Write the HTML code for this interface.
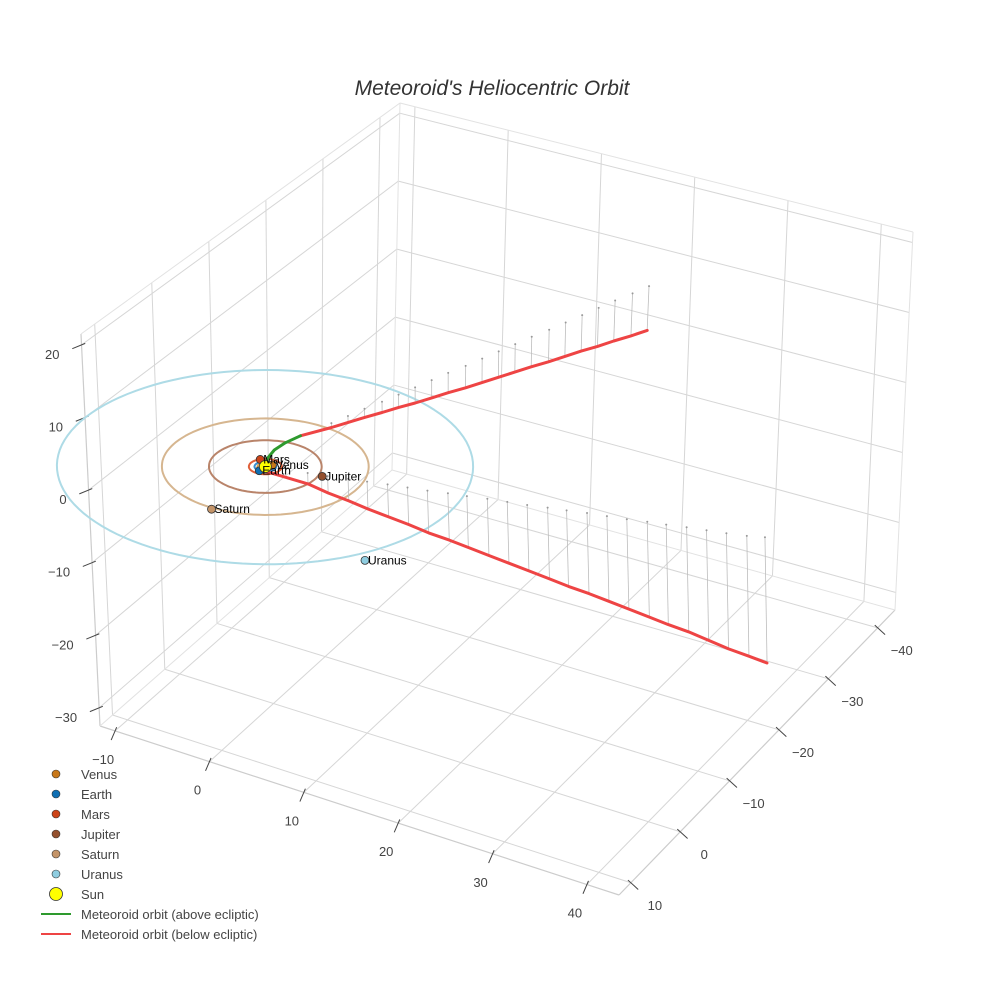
<!DOCTYPE html>
<html><head><meta charset="utf-8"><title>Meteoroid's Heliocentric Orbit</title>
<style>
html,body{margin:0;padding:0;background:#fff;}
svg{display:block;font-family:"Liberation Sans",Arial,sans-serif;}
</style></head>
<body>
<svg id="chart" width="984" height="984" viewBox="0 0 984 984">
<text x="492" y="95" text-anchor="middle" font-size="21" font-style="italic" style="fill:#333">Meteoroid's Heliocentric Orbit</text>
<g id="grid"></g>
<g id="ticks"></g>
<g id="orbits"></g>
<g id="drops"></g>
<g id="traj"></g>
<g id="planets"></g>
<g id="legend"></g>
</svg>
<script>
// ---- data ----
const xTicks = [-10, 0, 10, 20, 30, 40];
const yTicks = [-40, -30, -20, -10, 0, 10];
const zTicks = [-30, -20, -10, 0, 10, 20];
const xRange = [-11.6, 43.4];
const yRange = [-43.5, 12.4];
const zRange = [-32.5, 21.5];

const planetNames = ["Venus", "Earth", "Mars", "Jupiter", "Saturn", "Uranus"];
const planetColors = ["#c8781a", "#0f6fb3", "#cc4418", "#94502e", "#c49468", "#8fcde0"];
const orbitColors = ["#d8a050", "#3b8fd0", "#e0603a", "#b9846a", "#d6b690", "#aedbe6"];
const orbitRadii = [0.72, 1.0, 1.52, 5.2, 9.54, 19.2];
const planetX = [0.4, -0.06, -1.12, 5.5, 0.0, 17.2];
const planetY = [-0.6, 1.0, -0.97, -1.0, 9.8, 11.2];
const planetZ = [0, 0, 0, 0, 0, 0];

// meteoroid: above-ecliptic arc (green)
const greenX = [-0.3, -0.5, -0.5, -0.3, 0.1, 0.4];
const greenY = [-6.9, -4.5, -2.5, -1.0, 0.2, 0.8];
const greenZ = [0.0, 0.4, 0.6, 0.5, 0.3, 0.0];
// incoming branch below ecliptic (red)
const inX = [0.9, 1.5, 2.1, 2.8, 3.4, 4.0, 4.6, 5.2, 5.9, 6.5, 7.1, 7.7, 8.3, 9.0, 9.6, 10.2, 10.8, 11.4, 12.1, 12.7];
const inY = [-10.5, -12.5, -14.5, -16.5, -18.5, -20.5, -22.5, -24.5, -26.5, -28.5, -30.5, -32.5, -34.5, -36.5, -38.5, -40.5, -42.5, -44.5, -46.5, -48.5];
const inZ = [-0.6, -0.9, -1.2, -1.5, -1.8, -2.2, -2.5, -2.8, -3.1, -3.4, -3.7, -4.0, -4.3, -4.6, -4.9, -5.2, -5.6, -5.9, -6.2, -6.5];
// outgoing branch below ecliptic (red)
const outX = [4.0, 5.9, 7.8, 9.6, 11.5, 13.4, 15.3, 17.2, 19.0, 20.9, 22.8, 24.7, 26.6, 28.4, 30.3, 32.2, 34.1, 36.0, 37.8, 39.7, 41.6, 43.5, 45.4, 47.0];
const outY = [-0.9, -1.3, -1.8, -2.2, -2.7, -3.1, -3.5, -4.0, -4.4, -4.9, -5.3, -5.7, -6.2, -6.6, -7.1, -7.5, -7.9, -8.4, -8.8, -9.3, -9.7, -10.1, -10.6, -11.2];
const outZ = [-1.5, -2.3, -3.0, -3.7, -4.4, -5.0, -5.7, -6.3, -6.9, -7.6, -8.2, -8.8, -9.5, -10.1, -10.7, -11.3, -11.9, -12.6, -13.2, -13.8, -14.5, -15.2, -15.8, -16.5];

const legendLabels = ["Venus", "Earth", "Mars", "Jupiter", "Saturn", "Uranus", "Sun", "Meteoroid orbit (above ecliptic)", "Meteoroid orbit (below ecliptic)"];

// ---- projection (scene box corners on screen) ----
const NS = "http://www.w3.org/2000/svg";
const K = {
  "000": [392, 470], "100": [895, 610], "010": [100, 726], "110": [619, 895],
  "001": [400, 103], "101": [913, 232], "011": [81, 334], "111": [594, 462]
};
function proj(x, y, z) {
  const u = (x - xRange[0]) / (xRange[1] - xRange[0]);
  const v = (y - yRange[0]) / (yRange[1] - yRange[0]);
  const w = (z - zRange[0]) / (zRange[1] - zRange[0]);
  let px = 0, py = 0;
  for (const a of [0, 1]) for (const b of [0, 1]) for (const c of [0, 1]) {
    const f = (a ? u : 1 - u) * (b ? v : 1 - v) * (c ? w : 1 - w);
    const p = K["" + a + b + c];
    px += f * p[0]; py += f * p[1];
  }
  return [px, py];
}
function mk(tag, attrs, parent) {
  const e = document.createElementNS(NS, tag);
  for (const k in attrs) e.setAttribute(k, attrs[k]);
  parent.appendChild(e);
  return e;
}
function line3(p, q, stroke, sw, parent, name) {
  const a = proj(p[0], p[1], p[2]), b = proj(q[0], q[1], q[2]);
  const e = mk("line", { x1: a[0], y1: a[1], x2: b[0], y2: b[1], stroke: stroke, "stroke-width": sw }, parent);
  
  
  return e;
}
function path3(xs, ys, zs, stroke, sw, parent, name) {
  let d = "";
  for (let i = 0; i < xs.length; i++) {
    const p = proj(xs[i], ys[i], zs[i]);
    d += (i ? "L" : "M") + p[0].toFixed(1) + "," + p[1].toFixed(1);
  }
  const e = mk("path", { d: d, fill: "none", stroke: stroke, "stroke-width": sw, "stroke-linejoin": "round", "stroke-linecap": "round" }, parent);
  
  
  return e;
}

const [x0, x1] = xRange, [y0, y1] = yRange, [z0, z1] = zRange;
const grid = document.getElementById("grid");
const G = "#d6d6d6";
for (const x of xTicks) line3([x, y0, z0], [x, y1, z0], G, 1, grid, "floor-gridline-x");
for (const y of yTicks) line3([x0, y, z0], [x1, y, z0], G, 1, grid, "floor-gridline-y");
for (const y of yTicks) line3([x0, y, z0], [x0, y, z1], G, 1, grid, "left-wall-gridline-y");
for (const z of zTicks) line3([x0, y0, z], [x0, y1, z], G, 1, grid, "left-wall-gridline-z");
for (const x of xTicks) line3([x, y0, z0], [x, y0, z1], G, 1, grid, "back-wall-gridline-x");
for (const z of zTicks) line3([x0, y0, z], [x1, y0, z], G, 1, grid, "back-wall-gridline-z");
const E = "#e2e2e2";
line3([x0, y1, z0], [x1, y1, z0], "#ccc", 1.2, grid, "x-axis-line");
line3([x1, y1, z0], [x1, y0, z0], "#ccc", 1.2, grid, "y-axis-line");
line3([x0, y1, z0], [x0, y1, z1], "#ccc", 1.2, grid, "z-axis-line");
line3([x0, y0, z0], [x0, y0, z1], E, 1, grid, "box-edge");
line3([x1, y0, z0], [x1, y0, z1], E, 1, grid, "box-edge");
line3([x0, y1, z1], [x0, y0, z1], E, 1, grid, "box-edge");
line3([x0, y0, z1], [x1, y0, z1], E, 1, grid, "box-edge");
line3([x0, y0, z0], [x0, y1, z0], E, 1, grid, "box-edge");
line3([x0, y0, z0], [x1, y0, z0], E, 1, grid, "box-edge");

const ticks = document.getElementById("ticks");
function tick(pt, off, label, anchor, name) {
  const p = proj(pt[0], pt[1], pt[2]);
  const len = Math.hypot(off[0], off[1]);
  const ux = off[0] / len, uy = off[1] / len;
  const t = mk("line", { x1: p[0] - ux * 4, y1: p[1] - uy * 4, x2: p[0] + ux * 10, y2: p[1] + uy * 10, stroke: "#444", "stroke-width": 1 }, ticks);
  
  
  const tx = mk("text", { x: p[0] + off[0], y: p[1] + off[1] + 5, "font-size": 13, fill: "#444", "text-anchor": anchor }, ticks);
  tx.textContent = String(label).replace("-", "\u2212");
  
  
}
for (const x of xTicks) tick([x, y1, z0], [-12, 28], x, "middle", "x-tick");
for (const y of yTicks) tick([x1, y, z0], [24, 22], y, "middle", "y-tick");
for (const z of zTicks) tick([x0, y1, z], [-22, 9], z, "end", "z-tick");

const orbits = document.getElementById("orbits");
for (let i = 0; i < orbitRadii.length; i++) {
  const xs = [], ys = [], zs = [];
  for (let k = 0; k <= 120; k++) {
    const a = k / 120 * 2 * Math.PI;
    xs.push(orbitRadii[i] * Math.cos(a)); ys.push(orbitRadii[i] * Math.sin(a)); zs.push(0);
  }
  path3(xs, ys, zs, orbitColors[i], 2, orbits, planetNames[i].toLowerCase() + "-orbit");
}

const drops = document.getElementById("drops");
function dropLines(xs, ys, zs, name) {
  for (let i = 0; i < xs.length; i++) {
    line3([xs[i], ys[i], zs[i]], [xs[i], ys[i], 0], "#bdbdbd", 0.8, drops, name);
    const p = proj(xs[i], ys[i], 0);
    const c = mk("circle", { cx: p[0], cy: p[1], r: 1, fill: "#999" }, drops);
    
    
  }
}
dropLines(inX, inY, inZ, "incoming-drop-line");
dropLines(outX, outY, outZ, "outgoing-drop-line");

const traj = document.getElementById("traj");
path3([greenX[0]].concat(inX), [greenY[0]].concat(inY), [greenZ[0]].concat(inZ), "#ee4444", 3, traj, "incoming-branch-below-ecliptic");
path3([greenX[greenX.length - 1]].concat(outX), [greenY[greenY.length - 1]].concat(outY), [greenZ[greenZ.length - 1]].concat(outZ), "#ee4444", 3, traj, "outgoing-branch-below-ecliptic");
path3(greenX, greenY, greenZ, "#2e9a2e", 3, traj, "arc-above-ecliptic");

const planets = document.getElementById("planets");
for (let i = 0; i < planetNames.length; i++) {
  const p = proj(planetX[i], planetY[i], planetZ[i]);
  const c = mk("circle", { cx: p[0], cy: p[1], r: 4, fill: planetColors[i], stroke: "#333", "stroke-width": 0.8 }, planets);
  
  
}
const sp = proj(0, 0, 0);
const sun = mk("circle", { cx: sp[0], cy: sp[1], r: 6, fill: "#ffff00", stroke: "#333", "stroke-width": 0.8 }, planets);


for (let i = 0; i < planetNames.length; i++) {
  const p = proj(planetX[i], planetY[i], planetZ[i]);
  const t = mk("text", { x: p[0] + 3, y: p[1] + 4, "font-size": 12, fill: "#000" }, planets);
  t.textContent = planetNames[i];
  
  
}

const legend = document.getElementById("legend");
for (let i = 0; i < legendLabels.length; i++) {
  const y = 774 + i * 20;
  let m;
  if (i < 6) m = mk("circle", { cx: 56, cy: y, r: 4, fill: planetColors[i], stroke: "#333", "stroke-width": 0.6 }, legend);
  else if (i === 6) m = mk("circle", { cx: 56, cy: y, r: 6.5, fill: "#ffff00", stroke: "#333", "stroke-width": 0.8 }, legend);
  else m = mk("line", { x1: 41, y1: y, x2: 71, y2: y, stroke: i === 7 ? "#2e9a2e" : "#ee4444", "stroke-width": 2 }, legend);
  
  
  const t = mk("text", { x: 81, y: y + 5, "font-size": 13, fill: "#444" }, legend);
  t.textContent = legendLabels[i];
  
  
}
</script>
</body></html>
